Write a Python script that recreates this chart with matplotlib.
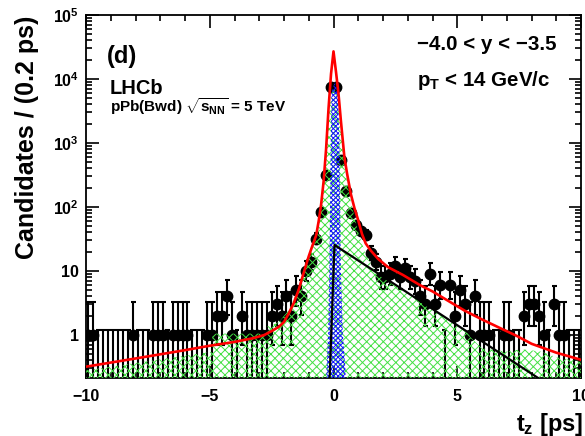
import numpy as np
import matplotlib
matplotlib.use("Agg")
import matplotlib.pyplot as plt
from matplotlib.ticker import FixedLocator, FixedFormatter, LogLocator, MultipleLocator, NullFormatter

plt.rcParams['font.family'] = ['Liberation Sans', 'DejaVu Sans']
plt.rcParams['font.weight'] = 'bold'
plt.rcParams['mathtext.fontset'] = 'custom'
plt.rcParams['mathtext.rm'] = 'Liberation Sans:bold'
plt.rcParams['mathtext.it'] = 'Liberation Sans:bold'
plt.rcParams['mathtext.bf'] = 'Liberation Sans:bold'
plt.rcParams['hatch.linewidth'] = 0.7

# ---- data ----
# 100 bins of 0.2 ps from -10 to 10, centres -9.9 ... 9.9
bin_lo = -10.0
bin_width = 0.2
counts = [1, 1, 0, 0, 0, 0, 0, 0, 0, 1,
          0, 0, 0, 1, 1, 1, 0, 1, 1, 1,
          1, 0, 0, 0, 1, 1, 2, 2, 4, 1,
          0, 2, 1, 1, 1, 1, 1, 2, 3, 2,
          4, 2, 5, 4, 10, 14, 32, 85, 316, 7500,
          7500, 540, 180, 82, 52, 42, 36, 19, 14, 8,
          8, 9, 12, 8, 11, 8, 7, 4, 3, 9,
          3, 6, 0, 6, 2, 5, 3, 1, 4, 1,
          1, 1, 0, 0, 1, 1, 0, 0, 2, 3,
          3, 2, 1, 0, 3, 1, 1, 0, 0, 0]

# total fit (red)
fit_t = [-10, -8, -6, -5, -4, -3.2, -2.8, -2.5, -2.2, -2.0, -1.8, -1.6, -1.4, -1.2,
         -1.0, -0.85, -0.7, -0.6, -0.5, -0.4, -0.3, -0.2, -0.1, 0.0, 0.1, 0.2, 0.3,
         0.44, 0.55, 0.7, 0.85, 1.0, 1.15, 1.3, 1.5, 1.8, 2.2, 2.8, 3.5, 4.0, 4.7,
         5.3, 6.0, 6.7, 7.4, 8.0, 9.0, 10.0]
fit_y = [0.32, 0.43, 0.58, 0.68, 0.78, 0.90, 1.0, 1.15, 1.35, 1.6, 2.2, 3.2, 5.2, 9.5,
         17, 25, 36, 60, 110, 250, 800, 3500, 12000, 27000, 13000, 6000, 2200,
         600, 330, 160, 95, 62, 38, 27, 21, 15.5, 11.5, 8.7, 6.0, 4.8, 3.3,
         2.4, 1.75, 1.3, 0.97, 0.73, 0.53, 0.41]

# non-prompt component (black)
nonprompt_t = [-0.17, 0.04, 8.5]
nonprompt_y = [0.15, 25.5, 0.186]

# green hatched component, upper edge
green_t = [-10, -4.9, -4.9, -2.7, -2.7, -2.2, -1.8, -1.5, -1.2, -0.9, -0.7, -0.5,
           -0.35, -0.25, -0.15, 0.0, 0.15, 0.3, 0.45, 0.7, 1.0, 1.3, 1.7, 4.4, 5.5,
           5.5, 6.0, 7.0, 7.6, 8.4, 9.0, 10.0]
green_y = [0.28, 0.55, 1.05, 1.05, 1.35, 1.6, 2.5, 4.5, 9, 20, 33, 90,
           300, 1300, 4500, 8000, 5500, 1500, 400, 120, 40, 18, 9.5, 2.0, 1.1,
           0.95, 0.62, 0.55, 0.6, 0.55, 0.45, 0.38]

# blue hatched prompt component, outline
blue_t = [-0.33, -0.28, -0.22, -0.17, -0.14, -0.11, -0.08, 0.05, 0.18, 0.24, 0.27,
          0.3, 0.38, 0.48, 0.51]
blue_y = [0.1, 0.3, 1, 10, 100, 1000, 6000, 9000, 6000, 1000, 100,
          10, 1, 0.3, 0.1]

y_ticks = [1, 10, 1e2, 1e3, 1e4, 1e5]
y_ticklabels = ['1', '10', '$10^{2}$', '$10^{3}$', '$10^{4}$', '$10^{5}$']
x_ticks = [-10, -5, 0, 5, 10]

# Garwood 68% Poisson intervals for small counts
garwood = {1: (0.173, 3.300), 2: (0.708, 4.638), 3: (1.367, 5.918),
           4: (2.086, 7.163), 5: (2.840, 8.382), 6: (3.620, 9.584),
           7: (4.419, 10.77), 8: (5.232, 11.95), 9: (6.057, 13.11),
           10: (6.891, 14.27), 11: (7.734, 15.42), 12: (8.585, 16.56)}

counts = np.array(counts, dtype=float)
centres = bin_lo + bin_width * (np.arange(len(counts)) + 0.5)

ymin, ymax = 0.213, 1e5

fig = plt.figure(figsize=(5.85, 4.36), dpi=100)
ax = fig.add_axes([86 / 585, 1 - 378 / 436, (581 - 86) / 585, (378 - 15) / 436])

nz = counts > 0
lo = []
hi = []
for n in counts[nz]:
    if int(n) in garwood:
        a, b = garwood[int(n)]
    else:
        a, b = n - np.sqrt(n), n + np.sqrt(n) + 1
    lo.append(n - a)
    hi.append(b - n)

ax.errorbar(centres[nz], counts[nz], yerr=[lo, hi], fmt='o', color='black',
            ms=7.5, elinewidth=1.5, capsize=1.8, capthick=1.5, zorder=2)
ax.errorbar(centres[nz], counts[nz], xerr=bin_width / 2, fmt='none', ecolor='black',
            elinewidth=1.5, capsize=0, zorder=2)
# empty bins
zc = centres[~nz]
ax.vlines(zc, 0.1, 1.2, color='black', lw=1.5, zorder=2)
ax.hlines(np.full(len(zc), 1.2), zc - bin_width / 2, zc + bin_width / 2,
          color='black', lw=1.5, zorder=2)

ax.fill_between(green_t, 0.1, green_y, facecolor='none', edgecolor='#44e044',
                hatch='xxxx', lw=0, zorder=3)
ax.fill(blue_t, blue_y, facecolor='none', edgecolor='#1414ff', hatch='xxxxxxx',
        lw=0, zorder=4)
ax.plot(nonprompt_t, nonprompt_y, color='black', lw=1.6, zorder=5)
ax.plot(fit_t, fit_y, color='red', lw=1.9, zorder=6)

ax.set_yscale('log')
ax.set_xlim(-10, 10)
ax.set_ylim(ymin, ymax)
ax.xaxis.set_major_locator(FixedLocator(x_ticks))
ax.xaxis.set_minor_locator(MultipleLocator(1))
ax.yaxis.set_major_locator(FixedLocator(y_ticks))
ax.yaxis.set_major_formatter(FixedFormatter(y_ticklabels))
ax.yaxis.set_minor_locator(LogLocator(base=10, subs=np.arange(2, 10)))
ax.yaxis.set_minor_formatter(NullFormatter())
ax.tick_params(which='both', direction='in', top=True, right=True, width=1.2,
               labelsize=11.5)
ax.tick_params(which='major', length=9)
ax.tick_params(which='minor', length=4)
ax.tick_params(axis='x', pad=8)
ax.tick_params(axis='y', pad=5)
for s in ax.spines.values():
    s.set_linewidth(1.3)

fig.text(27 / 585, 1 - 137 / 436, 'Candidates / (0.2 ps)', rotation=90,
         ha='center', va='center', fontsize=18)
fig.text(583 / 585, 1 - 424 / 436, '$t_{z}$ [ps]', ha='right', va='center',
         fontsize=17)
fig.text(107 / 585, 1 - 56 / 436, '(d)', ha='left', va='center', fontsize=17)
fig.text(110 / 585, 1 - 88 / 436, 'LHCb', ha='left', va='center', fontsize=14.5)
fig.text(110 / 585, 1 - 107 / 436, r'pPb(Bwd) $\sqrt{s_{NN}}$ = 5 TeV',
         ha='left', va='center', fontsize=11)
fig.text(417 / 585, 1 - 45 / 436, '\u22124.0 < y < \u22123.5', ha='left',
         va='center', fontsize=14.8)
fig.text(417 / 585, 1 - 80 / 436, '$p_{T}$ < 14 GeV/c', ha='left',
         va='center', fontsize=14.8)

fig.savefig('out.png', dpi=100)
